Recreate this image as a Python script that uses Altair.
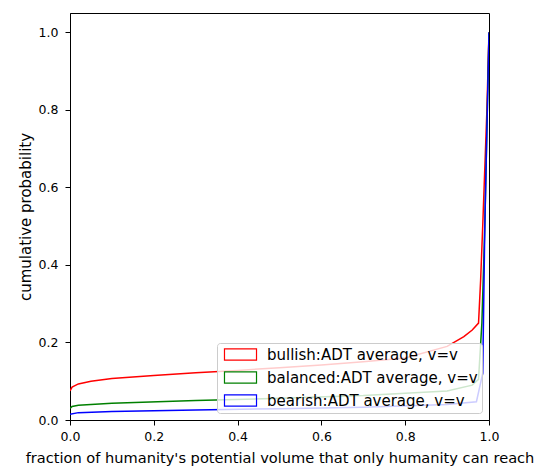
import altair as alt
import pandas as pd

series_names = ["bullish:ADT average, v=v", "balanced:ADT average, v=v", "bearish:ADT average, v=v"]
series_colors = ["#ff0000", "#008000", "#0000ff"]

bull_x = [0, 0.005, 0.02, 0.05, 0.1, 0.2, 0.3, 0.4, 0.5, 0.6, 0.7, 0.8, 0.9, 0.94, 0.96, 0.975, 0.98, 0.985, 0.99, 0.995, 1.0]
bull_y = [0.075, 0.085, 0.093, 0.100, 0.107, 0.115, 0.122, 0.128, 0.135, 0.142, 0.150, 0.160, 0.190, 0.215, 0.232, 0.25, 0.36, 0.5, 0.65, 0.8, 1.0]

bal_x = [0, 0.005, 0.02, 0.1, 0.3, 0.5, 0.7, 0.9, 0.96, 0.975, 0.983, 0.99, 1.0]
bal_y = [0.030, 0.035, 0.038, 0.043, 0.050, 0.056, 0.063, 0.075, 0.09, 0.105, 0.25, 0.5, 1.0]

bear_x = [0, 0.02, 0.1, 0.3, 0.5, 0.7, 0.9, 0.97, 0.985, 0.99, 1.0]
bear_y = [0.015, 0.019, 0.022, 0.026, 0.029, 0.033, 0.040, 0.047, 0.12, 0.5, 1.0]

rows = []
for name, xs, ys in zip(series_names, [bull_x, bal_x, bear_x], [bull_y, bal_y, bear_y]):
    for i, (a, b) in enumerate(zip(xs, ys)):
        rows.append({"series": name, "x": a, "y": b, "i": i})
df = pd.DataFrame(rows)

font = "DejaVu Sans"

chart = alt.Chart(df).mark_line(strokeWidth=1.5, clip=True).encode(
    x=alt.X("x:Q", scale=alt.Scale(domain=[0, 1], nice=False, zero=False),
            axis=alt.Axis(title="fraction of humanity's potential volume that only humanity can reach",
                          values=[0, 0.2, 0.4, 0.6, 0.8, 1.0], format=".1f",
                          labelPadding=5, titlePadding=8, titleFontSize=14.6)),
    y=alt.Y("y:Q", scale=alt.Scale(domain=[0, 1.05], nice=False, zero=False),
            axis=alt.Axis(title="cumulative probability",
                          values=[0, 0.2, 0.4, 0.6, 0.8, 1.0], format=".1f",
                          labelPadding=7, titlePadding=5)),
    color=alt.Color("series:N", scale=alt.Scale(domain=series_names, range=series_colors),
                    legend=alt.Legend(title=None, orient="bottom-right", offset=7,
                                      symbolType="M-3,-1.05H3V1.05H-3Z", symbolSize=114,
                                      symbolStrokeWidth=1.2, symbolFillColor="transparent",
                                      labelFont=font, labelFontSize=15, labelColor="#000",
                                      labelLimit=0,
                                      fillColor="rgba(255,255,255,0.8)", strokeColor="#cccccc",
                                      padding=4, rowPadding=6, symbolOffset=12, labelOffset=19,
                                      cornerRadius=3)),
    order="i:Q",
).properties(
    width=419, height=407,
    autosize=alt.AutoSizeParams(type="none"),
    padding={"left": 62, "top": 5, "right": 49, "bottom": 47},
).configure_view(
    stroke="#000", strokeWidth=1
).configure_axis(
    grid=False, domain=True, domainColor="#000", tickColor="#000", tickSize=5,
    labelFont=font, labelFontSize=12.5, labelColor="#000", titleFont=font,
    titleFontSize=15, titleFontWeight="normal", titleColor="#000",
    labelFlush=False, labelOverlap=False,
)

chart.save("out.html", embed_options={"renderer": "svg", "actions": False})
